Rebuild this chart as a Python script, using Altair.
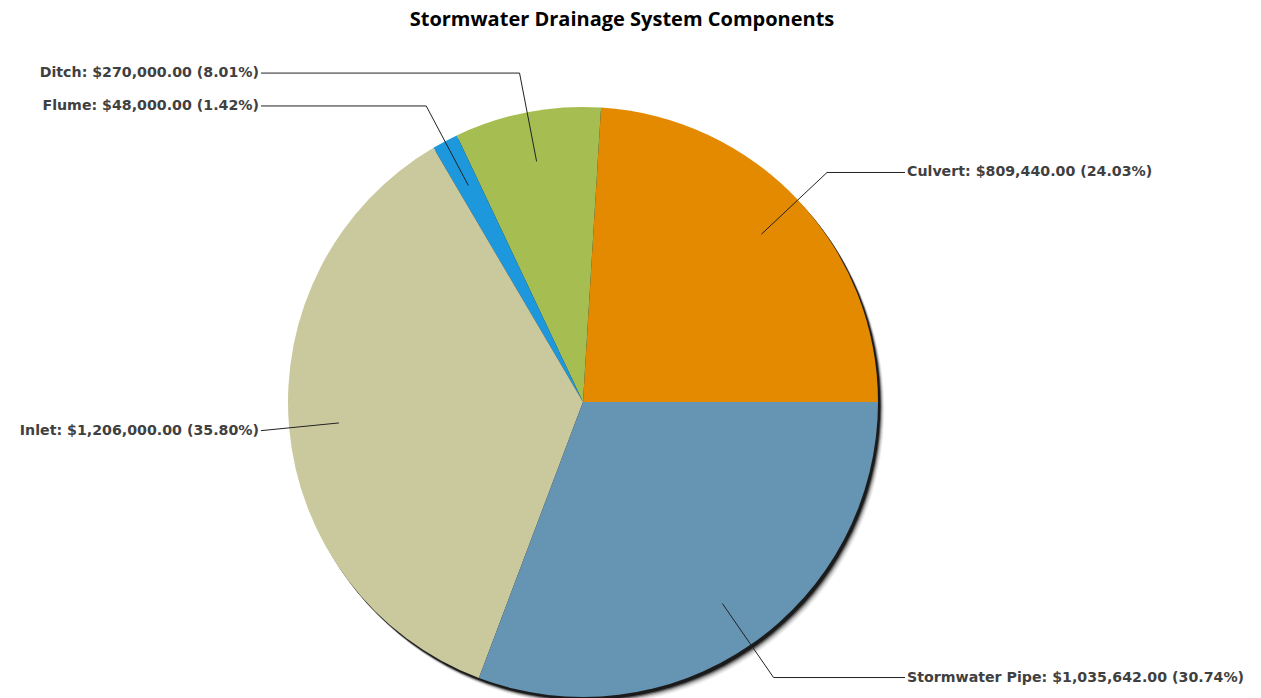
import math
import numpy as np
import pandas as pd
import altair as alt

# ---- data ----
categories = ["Culvert", "Ditch", "Flume", "Inlet", "Stormwater Pipe"]
values = [809440.00, 270000.00, 48000.00, 1206000.00, 1035642.00]
colors = ["#E38A00", "#A6BD52", "#1E98DC", "#CAC99E", "#6694B3"]
title_text = "Stormwater Drainage System Components"

# ---- layout ----
W, H = 1261, 698
CX, CY, R = 583, 402, 295
R_IN, R_ELBOW = 245, 335
LABEL_GAP = 27
FONT = "DejaVu Sans"

vals = np.array(values)
total = vals.sum()
frac = vals / total
start = np.concatenate([[0], np.cumsum(frac)[:-1]])
mid = 2 * np.pi * (start + frac / 2)  # counter-clockwise from 3 o'clock

pie = pd.DataFrame({
    "category": categories,
    "value": values,
    "ord": list(range(len(categories)))[::-1],
})

rows_line = []
rows_text = []
for i, c in enumerate(categories):
    a = mid[i]
    ix, iy = CX + R_IN * math.cos(a), CY - R_IN * math.sin(a)
    ex, ey = CX + R_ELBOW * math.cos(a), CY - R_ELBOW * math.sin(a)
    right = math.cos(a) > 0
    lx = CX + R + LABEL_GAP if right else CX - R - LABEL_GAP
    ex = min(ex, lx) if right else max(ex, lx)
    for k, (px, py) in enumerate([(ix, iy), (ex, ey), (lx, ey)]):
        rows_line.append({"category": c, "k": k, "x": px, "y": py})
    label = f"{c}: ${values[i]:,.2f} ({frac[i]*100:.2f}%)"
    rows_text.append({"category": c, "x": lx, "y": ey, "label": label,
                      "side": "right" if right else "left"})
lines = pd.DataFrame(rows_line)
texts = pd.DataFrame(rows_text)

xs = alt.Scale(domain=[0, W], range=[0, W])
ys = alt.Scale(domain=[0, H], range=[0, H])

# shadow (soft, offset down-right)
shadow_layers = []
for off, op in [(8, 0.05), (7, 0.08), (6, 0.12), (5, 0.22), (4, 0.4), (3, 0.7)]:
    shadow_layers.append(
        alt.Chart(pie.head(1)).mark_arc(radius=R, theta=0, theta2=2 * math.pi,
                                          color="black", opacity=op)
        .encode(x=alt.value(CX + off * 0.8), y=alt.value(CY + off))
    )

arcs = alt.Chart(pie).mark_arc(radius=R, stroke=None).encode(
    x=alt.value(CX), y=alt.value(CY),
    theta=alt.Theta("value:Q", stack=True,
                    scale=alt.Scale(range=[math.pi / 2, math.pi / 2 + 2 * math.pi])),
    order=alt.Order("ord:Q"),
    color=alt.Color("category:N", scale=alt.Scale(domain=categories, range=colors),
                    legend=None),
)

leader = alt.Chart(lines).mark_line(color="#222222", strokeWidth=1).encode(
    x=alt.X("x:Q", scale=xs, axis=None),
    y=alt.Y("y:Q", scale=ys, axis=None),
    detail="category:N",
    order="k:Q",
)

text_style = dict(baseline="middle", font=FONT, fontSize=14.2, fontWeight="bold",
                  color="#404040")

text_r = alt.Chart(texts[texts.side == "right"]).mark_text(
    align="left", dx=2, **text_style
).encode(x=alt.X("x:Q", scale=xs), y=alt.Y("y:Q", scale=ys), text="label:N")

text_l = alt.Chart(texts[texts.side == "left"]).mark_text(
    align="right", dx=-2, **text_style
).encode(x=alt.X("x:Q", scale=xs), y=alt.Y("y:Q", scale=ys), text="label:N")

title = alt.Chart(pd.DataFrame({"t": [title_text]})).mark_text(
    align="center", baseline="middle", font="Open Sans", fontSize=20,
    fontWeight="bold", color="#000000"
).encode(x=alt.value(622), y=alt.value(20), text="t:N")

chart = alt.layer(*shadow_layers, arcs, leader, text_r, text_l, title).properties(
    width=W, height=H, autosize=alt.AutoSizeParams(type="none"), padding=0
).configure_view(stroke=None).resolve_scale(theta="independent")

chart.save("out.html", embed_options={"renderer": "svg", "actions": False})
